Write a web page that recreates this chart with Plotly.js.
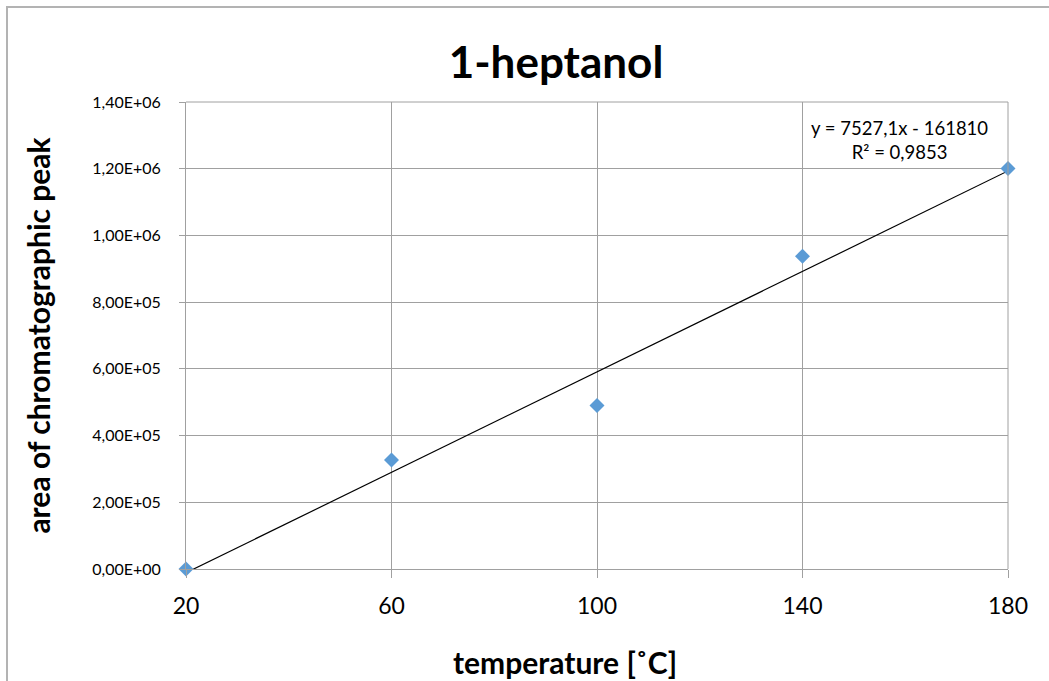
<!DOCTYPE html>
<html>
<head>
<meta charset="utf-8">
<script src="https://cdn.plot.ly/plotly-3.0.1.min.js"></script>
<style>
html,body{margin:0;padding:0;background:#fff;}
#chart{width:1049px;height:681px;}
#frame{position:absolute;left:6px;top:6px;width:1100px;height:700px;border-top:2px solid #b3b3b3;border-left:2px solid #b3b3b3;pointer-events:none;}
</style>
</head>
<body>
<div id="chart"></div>
<div id="frame"></div>
<script>
const temperature = [20, 60, 100, 140, 180];
const peakArea = [0, 327000, 490000, 937500, 1200500];
const xTicks = [20, 60, 100, 140, 180];
const yTickVals = [0, 200000, 400000, 600000, 800000, 1000000, 1200000, 1400000];
const yTickText = ["0,00E+00","2,00E+05","4,00E+05","6,00E+05","8,00E+05","1,00E+06","1,20E+06","1,40E+06"];
const trendText = "y = 7527,1x - 161810<br>R² = 0,9853";
const xTitle = "<b>temperature [˚C]</b>";
const yTitle = "<b>area of chromatographic peak</b>";
const chartTitle = "<b>1-heptanol</b>";

// least-squares trend line from the data
const n = temperature.length;
const mx = temperature.reduce((a,b)=>a+b,0)/n;
const my = peakArea.reduce((a,b)=>a+b,0)/n;
let sxy=0, sxx=0;
for(let i=0;i<n;i++){sxy+=(temperature[i]-mx)*(peakArea[i]-my);sxx+=(temperature[i]-mx)**2;}
const slope = sxy/sxx, intercept = my - slope*mx;
const trendX = [temperature[0], temperature[n-1]];
const trendY = trendX.map(x=>slope*x+intercept);

const font = "Lato, 'Open Sans', sans-serif";
const W=1049, H=681, L=186, R=41, T=102, B=112;
const PW=W-L-R, PH=H-T-B;
const data = [
  {x: trendX, y: trendY, mode:'lines', line:{color:'#000', width:1.2}, hoverinfo:'skip', cliponaxis:false},
  {x: temperature, y: peakArea, mode:'markers', marker:{symbol:'diamond', size:11.5, color:'#5B9BD5'}, cliponaxis:false}
];
const layout = {
  width:W, height:H,
  margin:{l:L, r:R, t:T, b:B},
  paper_bgcolor:'#fff', plot_bgcolor:'#fff',
  showlegend:false,
  font:{family:font, color:'#000'},
  title:{text:chartTitle, font:{size:44, family:font, color:'#000'}, x:556/W, xanchor:'center', y:1-63/H, yanchor:'middle'},
  xaxis:{
    range:[20,180], tickvals:xTicks, ticktext:xTicks.map(String),
    showgrid:true, gridcolor:'#a0a0a0', gridwidth:1,
    zeroline:false, showline:true, linecolor:'#a0a0a0', linewidth:1, mirror:false,
    ticks:'outside', ticklen:8, tickcolor:'#a0a0a0', ticklabelstandoff:8,
    tickfont:{size:23, family:font, color:'#000'}
  },
  yaxis:{
    range:[0,1400000], tickvals:yTickVals, ticktext:yTickText,
    showgrid:true, gridcolor:'#a0a0a0', gridwidth:1,
    zeroline:false, showline:true, linecolor:'#a0a0a0', linewidth:1,
    ticks:'outside', ticklen:6, tickcolor:'#a0a0a0', ticklabelstandoff:15,
    tickfont:{size:16, family:font, color:'#000'},
    title:{text:yTitle, font:{size:30, family:font, color:'#000'}, standoff:32}
  },
  shapes:[
    {type:'line', xref:'paper', yref:'paper', x0:1, x1:1, y0:0, y1:1, line:{color:'#a0a0a0', width:1}},
    {type:'line', xref:'paper', yref:'paper', x0:0, x1:1, y0:1, y1:1, line:{color:'#a0a0a0', width:1}}
  ],
  annotations:[
    {text:trendText, xref:'paper', yref:'paper', x:(899-L)/PW, y:1-(140-T)/PH, xanchor:'center', yanchor:'middle', showarrow:false, align:'center', font:{size:18.5, family:font, color:'#000'}},
    {text:xTitle, xref:'paper', yref:'paper', x:(565-L)/PW, y:1-(662-T)/PH, xanchor:'center', yanchor:'middle', showarrow:false, font:{size:30, family:font, color:'#000'}}
  ]
};
Plotly.newPlot('chart', data, layout, {displayModeBar:false, staticPlot:true});
</script>
</body>
</html>
